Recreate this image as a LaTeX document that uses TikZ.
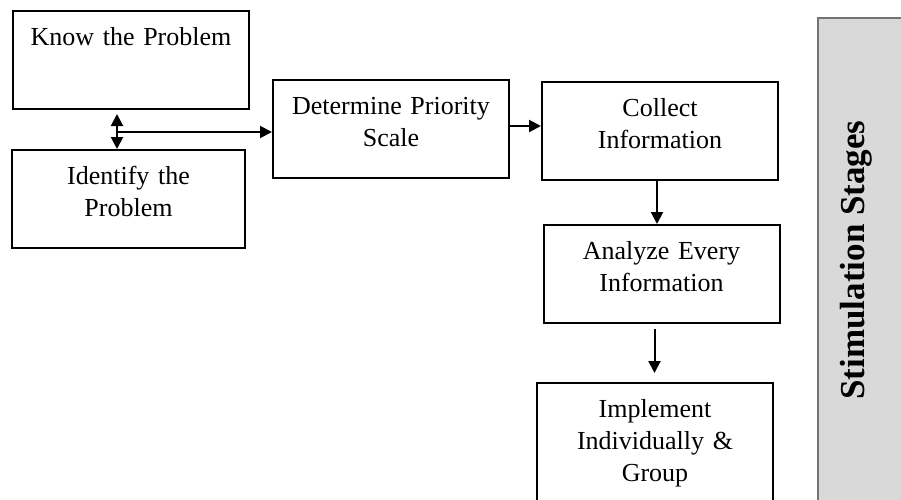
\documentclass[tikz,border=0pt]{standalone}
\usepackage{fontspec}
\setmainfont{Liberation Serif}
\usetikzlibrary
  {
    arrows.meta, % filled triangle heads
    calc,
  }

\begin{document}
\begin{tikzpicture}
    [
      x=0.5pt, y=-0.5pt,
      % Styles
      stage/.style={draw, line width=1pt, text width=118pt, align=center,
        inner xsep=0pt, inner ysep=0pt, text height=17pt, text depth=32pt,
        anchor=north, font=\fontsize{13pt}{16pt}\selectfont},
      flow/.style={line width=1pt, -{Triangle[length=6pt, width=6pt]}},
      twoway/.style={line width=1pt, {Triangle[length=6pt, width=6pt]}-{Triangle[length=6pt, width=6pt]}},
      bar/.style={draw=black!55, fill=black!15, line width=1pt, anchor=north west,
        inner sep=0pt, minimum width=50pt, minimum height=250pt},
      title/.style={rotate=90, font=\fontsize{17.5pt}{20pt}\selectfont\bfseries}
    ]

    \useasboundingbox (0,0) rectangle (901,499);
    \clip (0,0) rectangle (901,499);

    % side bar
    \node [bar] (bar) at (817,17) {};
    \node [title] (stages) at (856,260) {Stimulation Stages};

    % stages
    \node [stage] (know) at (131,10) {Know the Problem};
    \node [stage, text width=116.5pt] (identify) at (128.5,149) {Identify the\\ Problem};
    \node [stage] (determine) at (391,79) {Determine Priority\\ Scale};
    \node [stage] (collect) at (660,81) {Collect\\ Information};
    \node [stage] (analyze) at (661.5,224) {Analyze Every\\ Information};
    \node [stage, text depth=55pt] (implement) at (655,382) {Implement\\ Individually \&\\ Group};

    % connectors
    \coordinate (hub) at (117,132);
    \draw [twoway, shorten <=2pt] (hub |- know.south) -- (hub |- identify.north);
    \draw [flow] (hub) -- (determine.west |- hub);
    \draw [flow] ([yshift=1.5pt]determine.east) -- ([yshift=1.5pt]determine.east -| collect.west);
    \draw [flow] ([xshift=-1.5pt]collect.south) -- ([xshift=-1.5pt]collect.south |- analyze.north);
    \draw [flow, shorten <=2.5pt, shorten >=4.5pt]
      ([xshift=-3.5pt]analyze.south) -- ([xshift=-3.5pt]analyze.south |- implement.north);
\end{tikzpicture}
\end{document}
